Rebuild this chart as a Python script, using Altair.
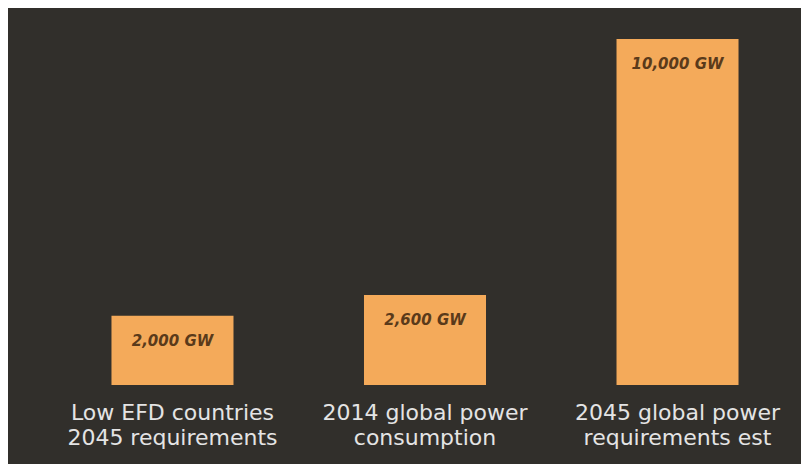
import altair as alt
import pandas as pd

categories = [
    "Low EFD countries\n2045 requirements",
    "2014 global power\nconsumption",
    "2045 global power\nrequirements est",
]
values_gw = [2000, 2600, 10000]
value_labels = ["2,000 GW", "2,600 GW", "10,000 GW"]

df = pd.DataFrame({"category": categories, "gw": values_gw, "label": value_labels})

x_scale = alt.Scale(paddingInner=0.5168, paddingOuter=0.2474)

x_enc = alt.X(
    "category:N",
    sort=categories,
    scale=x_scale,
    axis=alt.Axis(
        title=None,
        labelAngle=0,
        labelExpr="split(datum.label, '\\n')",
        labelFont="DejaVu Sans",
        labelFontSize=22,
        labelLineHeight=25,
        labelColor="#e4e4e4",
        labelPadding=17,
        labelLimit=400,
        domain=False,
        ticks=False,
        grid=False,
    ),
)
y_enc = alt.Y(
    "gw:Q",
    scale=alt.Scale(domain=[0, 10000], nice=False, zero=True),
    axis=None,
)

bars = alt.Chart(df).mark_bar(color="#f4aa5a").encode(x=x_enc, y=y_enc)

texts = alt.Chart(df).mark_text(
    font="DejaVu Sans",
    fontSize=15,
    fontWeight="bold",
    fontStyle="italic",
    color="#5a3a1a",
    baseline="middle",
    align="center",
    dy=25,
).encode(x=alt.X("category:N", sort=categories), y="gw:Q", text="label:N")

chart = (
    alt.layer(bars, texts)
    .properties(
        width=752,
        height=346,
        background="#312f2b",
        padding={"left": 41, "top": 31, "right": 0, "bottom": 79},
        autosize=alt.AutoSizeParams(type="none"),
    )
    .configure_view(stroke=None, fill=None)
)

chart.save("out.html", embed_options={"renderer": "svg", "actions": False})
